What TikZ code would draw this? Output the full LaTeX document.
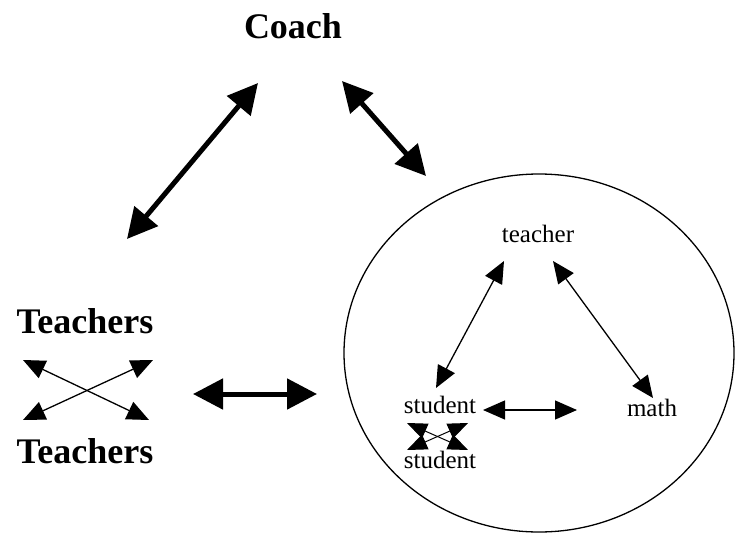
\documentclass[tikz,border=0pt]{standalone}
\usepackage{fontspec}
\setmainfont{Liberation Serif}
\usetikzlibrary{arrows.meta,shapes.geometric}
\tikzstyle{group}=[font=\fontsize{36}{40}\selectfont\bfseries, inner sep=0, anchor=base]
\tikzstyle{member}=[font=\fontsize{25}{28}\selectfont, inner sep=0, anchor=base]
\tikzstyle{biglink}=[line width=5pt, {Triangle[length=30pt,width=30pt]}-{Triangle[length=30pt,width=30pt]}]
\tikzstyle{link}=[line width=1.3pt, {Triangle[length=22pt,width=19pt]}-{Triangle[length=22pt,width=19pt]}]
\tikzstyle{tinylink}=[line width=1pt, {Triangle[length=20pt,width=16pt]}-{Triangle[length=20pt,width=16pt]}]

\begin{document}
\begin{tikzpicture}[x=1pt, y=-1pt]

\useasboundingbox (0, 0) rectangle (735, 535);

\node [group] (coach) at (293, 38) {Coach};
\node [group] (T1) at (85, 333) {Teachers};
\node [group] (T2) at (85, 463) {Teachers};

\node [draw, ellipse, line width=1.3pt, minimum width=390, minimum height=358, inner sep=0] (class) at (539, 353) {};

\node [member] (tch) at (538, 242) {teacher};
\node [member] (st1) at (440, 413) {student};
\node [member] (st2) at (440, 468) {student};
\node [member] (mth) at (652, 416) {math};

\coordinate (c1) at (258, 83);
\coordinate (c2) at (342, 81);
\coordinate (t1) at (127, 239);
\coordinate (t2) at (193, 394);
\coordinate (k1) at (426, 176);
\coordinate (k2) at (317, 394);

\coordinate (a1) at (23, 360);
\coordinate (a2) at (149, 420);
\coordinate (a3) at (153, 360);
\coordinate (a4) at (23, 420);

\coordinate (p1) at (504, 261);
\coordinate (p2) at (436, 388);
\coordinate (p3) at (553, 261);
\coordinate (p4) at (653, 398);
\coordinate (p5) at (483, 410);
\coordinate (p6) at (577, 410);

\coordinate (q1) at (407, 423);
\coordinate (q2) at (468, 450);
\coordinate (q3) at (468, 423);
\coordinate (q4) at (407, 450);

\draw [biglink] (t1) -- (c1);
\draw [biglink] (c2) -- (k1);
\draw [biglink] (t2) -- (k2);

\draw [link] (a1) -- (a2);
\draw [link] (a3) -- (a4);

\draw [link] (p1) -- (p2);
\draw [link] (p3) -- (p4);
\draw [link] (p5) -- (p6);

\draw [tinylink] (q1) -- (q2);
\draw [tinylink] (q3) -- (q4);

\end{tikzpicture}
\end{document}
